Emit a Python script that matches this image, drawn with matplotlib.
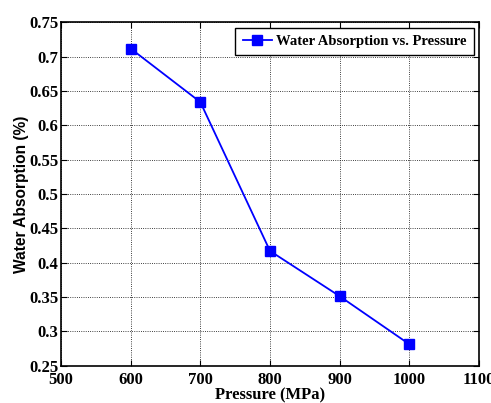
import matplotlib
matplotlib.use("Agg")
import matplotlib.pyplot as plt

# data
pressure = [600, 700, 800, 900, 1000]
absorption = [0.712, 0.634, 0.417, 0.351, 0.281]
xticks = [500, 600, 700, 800, 900, 1000, 1100]
yticks = [0.25, 0.3, 0.35, 0.4, 0.45, 0.5, 0.55, 0.6, 0.65, 0.7, 0.75]

fig = plt.figure(figsize=(4.91, 4.03), dpi=100)
ax = fig.add_axes([61/491, 1 - 365.5/403, (479-61)/491, (365.5-22.5)/403])

ax.plot(pressure, absorption, color='blue', linewidth=1.3, marker='s',
        markersize=6.5, label='Water Absorption vs. Pressure')

ax.set_xlim(500, 1100)
ax.set_ylim(0.25, 0.75)
ax.set_xticks(xticks)
ax.set_yticks(yticks)
ax.set_xticklabels([str(v) for v in xticks])
ax.set_yticklabels([('%g' % v) for v in yticks])
for lab in ax.get_xticklabels() + ax.get_yticklabels():
    lab.set_family('Liberation Serif')
    lab.set_weight('bold')
    lab.set_size(12)
ax.tick_params(axis='x', direction='in', top=True, length=4, width=0.8, pad=5)
ax.tick_params(axis='y', direction='in', right=True, length=4, width=0.8, pad=2)

ax.grid(True, linestyle=':', color='black', linewidth=0.6)
for s in ax.spines.values():
    s.set_linewidth(1.2)

ax.set_xlabel('Pressure (MPa)', family='Liberation Serif', fontweight='bold', fontsize=12, labelpad=-1)
ax.set_ylabel('Water Absorption (%)', family='Liberation Sans', fontweight='bold', fontsize=11.2, labelpad=0)

leg = ax.legend(loc='upper right', prop={'family': 'Liberation Serif', 'weight': 'bold', 'size': 10.5},
                fancybox=False, framealpha=1, edgecolor='black', handlelength=2.0,
                handletextpad=0.3, borderaxespad=0.35, borderpad=0.5)
leg.get_frame().set_linewidth(1.0)

fig.savefig('out.png', dpi=100)
